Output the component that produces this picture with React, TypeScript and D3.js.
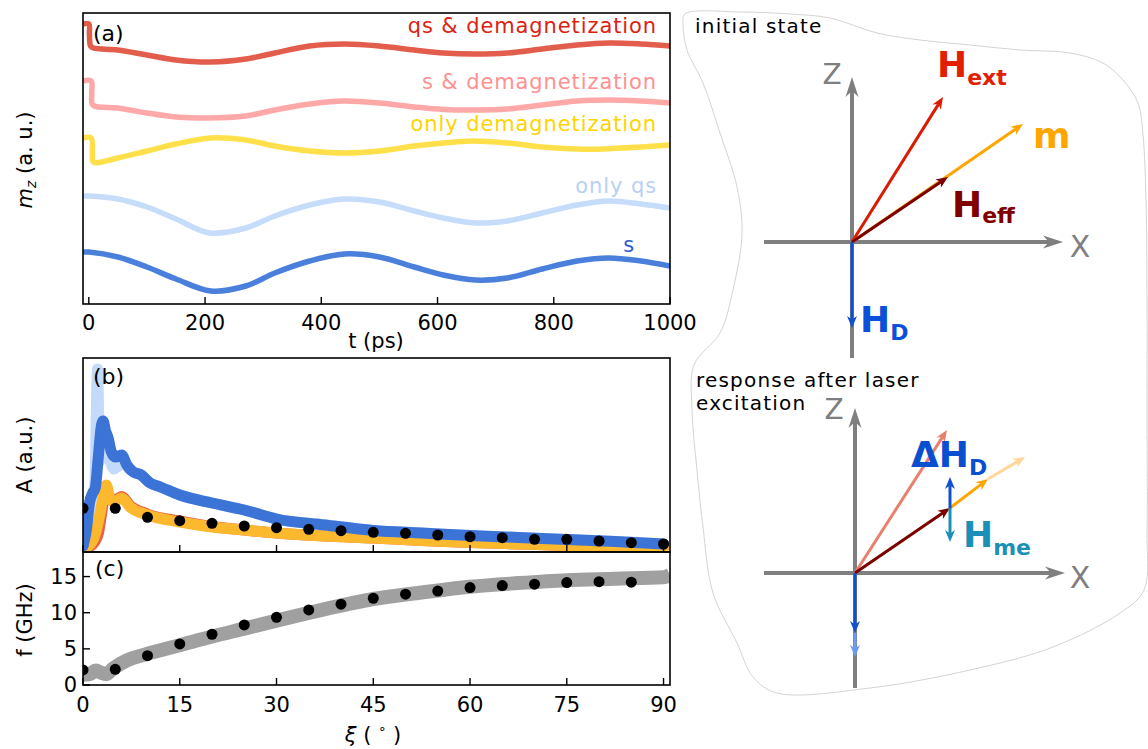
import React from 'react';
import * as d3 from 'd3';

const FONT = '"DejaVu Sans", Verdana, sans-serif';

// ---------- panel (a): m_z(t) traces, stacked with offsets (a.u.) ----------
const qsDemag: [number, number][] = [
  [-10, 28.0], [0, 28.0], [1, 27.0], [3, 25.8], [8, 25.6], [50, 25.4], [100, 24.9], [150, 24.4],
  [210, 24.2], [270, 24.5], [320, 25.1], [380, 25.8], [440, 26.0], [500, 25.8],
  [560, 25.4], [610, 25.1], [665, 25.0], [720, 25.1], [780, 25.5], [840, 25.9],
  [895, 26.1], [950, 26.0], [1000, 25.8],
];
const sDemag: [number, number][] = [
  [-10, 22.3], [4, 22.3], [5, 21.0], [7, 19.9], [50, 19.6], [100, 19.1], [150, 18.7],
  [205, 18.6], [270, 18.8], [320, 19.4], [380, 20.0], [440, 20.3], [500, 20.1],
  [560, 19.7], [610, 19.45], [665, 19.4], [720, 19.5], [780, 19.9], [840, 20.3],
  [895, 20.4], [950, 20.3], [1000, 20.1],
];
const onlyDemag: [number, number][] = [
  [-10, 16.6], [4, 16.6], [6, 15.0], [8, 14.2], [50, 14.6], [100, 15.3], [150, 16.0],
  [210, 16.6], [270, 16.4], [320, 15.8], [380, 15.3], [440, 15.1], [500, 15.3],
  [560, 15.8], [610, 16.1], [660, 16.3], [720, 16.1], [780, 15.7], [840, 15.5],
  [885, 15.5], [950, 15.7], [1000, 15.9],
];
const onlyQs: [number, number][] = [
  [-10, 10.8], [0, 10.8], [50, 10.5], [100, 9.7], [150, 8.5], [208, 7.1], [270, 7.6],
  [320, 8.8], [380, 9.9], [440, 10.5], [500, 10.2], [560, 9.3], [610, 8.6],
  [665, 8.1], [720, 8.3], [780, 9.1], [840, 9.9], [895, 10.3], [950, 10.0],
  [1000, 9.6],
];
const sOnly: [number, number][] = [
  [-10, 5.2], [0, 5.2], [50, 4.7], [100, 3.7], [150, 2.5], [210, 1.3], [270, 1.8],
  [320, 3.1], [380, 4.3], [440, 5.0], [500, 4.7], [560, 3.7], [610, 2.9],
  [665, 2.4], [720, 2.6], [780, 3.5], [840, 4.3], [895, 4.6], [950, 4.3],
  [1000, 3.8],
];
const namesA = ['qs & demagnetization', 's & demagnetization', 'only demagnetization', 'only qs', 's'];
const ticksT = [0, 200, 400, 600, 800, 1000];

// ---------- panel (b): amplitude vs xi ----------
const ampLightBlue: [number, number][] = [
  [0, 0.5], [0.6, 2.0], [1.2, 4.8], [1.8, 6.0], [2.25, 18.2], [2.6, 9.0], [3.1, 12.0],
  [3.6, 10.5], [4.2, 9.0], [4.8, 8.2], [5.5, 8.5], [6.2, 8.8], [7.0, 8.3], [7.8, 7.9],
  [9.0, 7.6], [10.4, 6.8], [12, 6.4], [15, 5.6], [20, 4.8], [25, 4.1], [30, 3.2],
  [37.5, 2.6], [45, 2.05], [52.5, 1.8], [60, 1.55], [67.5, 1.35], [75, 1.15], [82.5, 0.95], [90, 0.7],
];
const ampRed: [number, number][] = [
  [0, 0.2], [1.0, 0.4], [1.8, 0.9], [2.4, 1.8], [2.9, 3.8], [3.5, 6.0], [4.2, 5.4],
  [4.8, 5.0], [6.0, 5.45], [7.3, 4.55], [10, 3.7], [15, 3.0], [20, 2.45], [25, 2.1], [30, 1.8],
  [37.5, 1.5], [45, 1.3], [52.5, 1.05], [60, 0.85], [67.5, 0.7], [75, 0.55], [82.5, 0.45], [90, 0.35],
];
const ampOrange: [number, number][] = [
  [0, 0.3], [1.0, 0.6], [1.8, 1.5], [2.4, 3.0], [3.0, 5.0], [3.6, 6.6], [4.2, 5.2],
  [4.8, 4.9], [6.0, 5.3], [7.3, 4.4], [10, 3.6], [15, 2.9], [20, 2.4], [25, 2.1], [30, 1.8],
  [37.5, 1.5], [45, 1.3], [52.5, 1.05], [60, 0.85], [67.5, 0.7], [75, 0.55], [82.5, 0.45], [90, 0.35],
];
const ampBlue: [number, number][] = [
  [0, 0.5], [0.5, 2.0], [1.0, 4.8], [1.5, 5.8], [1.9, 6.3], [2.4, 9.6], [2.8, 12.3], [3.1, 13.0],
  [3.5, 12.0], [3.9, 11.3], [4.4, 9.9], [5.0, 9.4], [6.0, 9.6], [6.8, 8.6], [7.8, 7.9],
  [9.0, 7.6], [10.4, 6.8], [12, 6.4], [15, 5.6], [20, 4.8], [25, 4.1], [30, 3.2], [37.5, 2.6],
  [45, 2.05], [52.5, 1.8], [60, 1.55], [67.5, 1.35], [75, 1.15], [82.5, 0.95], [90, 0.7],
];
const xiDots = [0, 5, 10, 15, 20, 25, 30, 35, 40, 45, 50, 55, 60, 65, 70, 75, 80, 85, 90];
const ampDots = [4.27, 4.27, 3.37, 3.03, 2.77, 2.5, 2.33, 2.17, 2.03, 1.87, 1.77, 1.6, 1.43, 1.33, 1.17, 1.17, 1.0, 0.83, 0.7];

// ---------- panel (c): frequency vs xi ----------
const freqSim: [number, number][] = [
  [0, 1.4], [1, 1.5], [2, 2.0], [2.8, 1.7], [3.6, 1.5], [4.7, 2.3], [6.8, 3.4], [9.9, 4.3],
  [15, 5.5], [20, 6.7], [25, 7.8], [30, 8.9], [37.5, 10.5], [45, 11.9], [52.5, 12.8],
  [60, 13.6], [67.5, 14.1], [75, 14.5], [82.5, 14.7], [90, 14.9], [91, 15.2],
];
const xiFreqDots = [0, 5, 10, 15, 20, 25, 30, 35, 40, 45, 50, 55, 60, 65, 70, 75, 80, 85];
const freqDots = [2.08, 2.17, 4.06, 5.68, 7.02, 8.31, 9.37, 10.39, 11.18, 12.0, 12.56, 13.0, 13.48, 13.76, 13.95, 14.17, 14.3, 14.22];
const ticksXi = [0, 15, 30, 45, 60, 75, 90];
const ticksF = [0, 5, 10, 15];

// layout
const L = 83, R = 670;
const A_TOP = 13, A_BOT = 304, B_TOP = 358, B_BOT = 552, C_BOT = 685;
const TICK = 7;

const colorsA = ['#e35d4c', '#ffa8a8', '#ffe04a', '#c5dcfb', '#4a7fdc'];
const labelColorsA = ['#dd2211', '#ff9090', '#ffd400', '#b8d0f5', '#2a5bd0'];
const labelPosA = [[657, 33], [657, 89], [657, 131], [657, 193], [635, 252]];

function Arrow({ x1, y1, x2, y2, color, w = 3, head = 12, half = 5 }: any) {
  const a = Math.atan2(y2 - y1, x2 - x1);
  const ux = Math.cos(a), uy = Math.sin(a);
  const px = -uy, py = ux;
  const bx = x2 - head * ux, by = y2 - head * uy;
  const nx = x2 - head * 0.7 * ux, ny = y2 - head * 0.7 * uy;
  const pts = `${x2},${y2} ${bx + half * px},${by + half * py} ${nx},${ny} ${bx - half * px},${by - half * py}`;
  return (
    <g>
      <line x1={x1} y1={y1} x2={nx} y2={ny} stroke={color} strokeWidth={w} />
      <polygon points={pts} fill={color} />
    </g>
  );
}

function HLabel({ x, y, main, sub, color, dy = 8, size = 36, subSize = 22 }: any) {
  return (
    <text x={x} y={y} fill={color} fontFamily={FONT} fontWeight="bold">
      <tspan fontSize={size}>{main}</tspan>
      {sub ? <tspan fontSize={subSize} dy={dy}>{sub}</tspan> : null}
    </text>
  );
}

const blobPts: [number, number][] = [
  [685, 14], [740, 12], [790, 14], [830, 18], [877, 33], [920, 40], [970, 45], [1020, 50],
  [1070, 53], [1103, 63], [1123, 80], [1138, 103], [1143, 135], [1146, 200], [1147, 300],
  [1147, 420], [1147, 530], [1144, 590], [1120, 613], [1053, 647], [970, 670], [870, 688],
  [777, 693], [753, 677], [737, 643], [713, 593], [703, 527], [697, 470], [692, 410],
  [694, 365], [720, 333], [733, 290], [742, 233], [737, 187], [720, 133], [703, 83], [687, 50],
  [683, 25],
];

export default function App() {
  const xA = d3.scaleLinear().domain([-10, 1000]).range([L, R]);
  const yA = d3.scaleLinear().domain([0, 29.1]).range([A_BOT, A_TOP]);
  const lineA = d3.line<[number, number]>().x(d => xA(d[0])).y(d => yA(d[1])).curve(d3.curveCatmullRom.alpha(0.5));

  const xB = d3.scaleLinear().domain([0, 91]).range([L, R]);
  const yB = d3.scaleLinear().domain([-0.1, 19.3]).range([B_BOT, B_TOP]);
  const lineB = d3.line<[number, number]>().x(d => xB(d[0])).y(d => yB(d[1])).curve(d3.curveMonotoneX);

  const yC = d3.scaleLinear().domain([0, 18.4]).range([C_BOT, B_BOT]);
  const lineC = d3.line<[number, number]>().x(d => xB(d[0])).y(d => yC(d[1])).curve(d3.curveMonotoneX);

  const blob = d3.line().curve(d3.curveCatmullRomClosed)(blobPts) || '';

  const seriesA = [qsDemag, sDemag, onlyDemag, onlyQs, sOnly];
  const seriesB = [
    { d: ampLightBlue, c: '#c4dafa' },
    { d: ampRed, c: '#e8604c' },
    { d: ampOrange, c: '#fdb92e' },
    { d: ampBlue, c: '#3c73d6' },
  ];

  const gray = '#7f7f7f';
  const o1 = [852, 242];
  const o2 = [855, 573];

  return (
    <svg width={1148} height={749} style={{ position: 'absolute', left: 0, top: 0, background: '#fff' }} fontFamily={FONT}>
      <defs>
        <clipPath id="clipA"><rect x={L} y={A_TOP} width={R - L} height={A_BOT - A_TOP} /></clipPath>
        <clipPath id="clipB"><rect x={L} y={B_TOP} width={R - L} height={B_BOT - B_TOP} /></clipPath>
        <clipPath id="clipC"><rect x={L} y={B_BOT} width={R - L} height={C_BOT - B_BOT} /></clipPath>
      </defs>
      <rect width={1148} height={749} fill="#fff" />

      {/* ---------- panel (a) ---------- */}
      <g clipPath="url(#clipA)">
        {seriesA.map((s, i) => (
          <path key={i} d={lineA(s) || ''} fill="none" stroke={colorsA[i]} strokeWidth={5.5} strokeLinejoin="round" />
        ))}
      </g>
      {namesA.map((n, i) => (
        <text key={n} x={labelPosA[i][0]} y={labelPosA[i][1]} textAnchor="end" fontSize={21} letterSpacing={0.9} fill={labelColorsA[i]}>{n}</text>
      ))}
      <rect x={L} y={A_TOP} width={R - L} height={A_BOT - A_TOP} fill="none" stroke="#000" strokeWidth={1.6} />
      {ticksT.map(t => (
        <g key={t}>
          <line x1={xA(t)} x2={xA(t)} y1={A_BOT} y2={A_BOT - TICK} stroke="#000" strokeWidth={1.4} />
          <text x={xA(t)} y={A_BOT + 26} textAnchor="middle" fontSize={21}>{t}</text>
        </g>
      ))}
      <text x={376} y={348} textAnchor="middle" fontSize={21}>t (ps)</text>
      <text x={93} y={41} fontSize={22}>(a)</text>
      <text transform="translate(32,160) rotate(-90)" textAnchor="middle" fontSize={21}>
        <tspan fontStyle="italic">m</tspan>
        <tspan fontStyle="italic" fontSize={14} dy={4}>z</tspan>
        <tspan dy={-4}> (a. u.)</tspan>
      </text>

      {/* ---------- panel (b) ---------- */}
      <g clipPath="url(#clipB)">
        {seriesB.map((s, i) => (
          <path key={i} d={lineB(s.d) || ''} fill="none" stroke={s.c} strokeWidth={11} strokeLinejoin="round" strokeLinecap="round" />
        ))}
        {xiDots.map((x, i) => (
          <circle key={x} cx={xB(x)} cy={yB(ampDots[i])} r={5.5} fill="#000" />
        ))}
      </g>
      <rect x={L} y={B_TOP} width={R - L} height={B_BOT - B_TOP} fill="none" stroke="#000" strokeWidth={1.6} />
      {ticksXi.map(t => (
        <line key={t} x1={xB(t)} x2={xB(t)} y1={B_BOT} y2={B_BOT - TICK} stroke="#000" strokeWidth={1.4} />
      ))}
      <text x={93} y={384} fontSize={22}>(b)</text>
      <text transform="translate(32,455) rotate(-90)" textAnchor="middle" fontSize={21}>A (a.u.)</text>

      {/* ---------- panel (c) ---------- */}
      <g clipPath="url(#clipC)">
        <path d={lineC(freqSim) || ''} fill="none" stroke="#a0a0a0" strokeWidth={14} strokeLinejoin="round" />
        {xiFreqDots.map((x, i) => (
          <circle key={x} cx={xB(x)} cy={yC(freqDots[i])} r={5.5} fill="#000" />
        ))}
      </g>
      <rect x={L} y={B_BOT} width={R - L} height={C_BOT - B_BOT} fill="none" stroke="#000" strokeWidth={1.6} />
      {ticksXi.map(t => (
        <g key={t}>
          <line x1={xB(t)} x2={xB(t)} y1={C_BOT} y2={C_BOT - TICK} stroke="#000" strokeWidth={1.4} />
          <text x={xB(t)} y={C_BOT + 27} textAnchor="middle" fontSize={21}>{t}</text>
        </g>
      ))}
      {ticksF.map(t => (
        <g key={t}>
          <line x1={L} x2={L + TICK} y1={yC(t)} y2={yC(t)} stroke="#000" strokeWidth={1.4} />
          <text x={77} y={yC(t) + 7} textAnchor="end" fontSize={21}>{t}</text>
        </g>
      ))}
      <text x={95} y={576} fontSize={22}>(c)</text>
      <text transform="translate(32,620) rotate(-90)" textAnchor="middle" fontSize={21}>f (GHz)</text>
      <text x={373} y={742} textAnchor="middle" fontSize={21}>
        <tspan fontStyle="italic">ξ</tspan>
        <tspan> ( </tspan>
        <tspan fontSize={13} dy={-9}>∘</tspan>
        <tspan dy={9}> )</tspan>
      </text>

      {/* ---------- schematic ---------- */}
      <path d={blob} fill="none" stroke="#d4d4d4" strokeWidth={1} />
      <text x={695} y={33} fontSize={20} letterSpacing={1.2}>initial state</text>
      <text x={696} y={387} fontSize={20} letterSpacing={1.2}>response after laser</text>
      <text x={696} y={410} fontSize={20} letterSpacing={1.2}>excitation</text>

      {/* diagram 1 */}
      <line x1={o1[0]} y1={358} x2={o1[0]} y2={o1[1]} stroke={gray} strokeWidth={4} />
      <Arrow x1={o1[0]} y1={o1[1]} x2={o1[0]} y2={77} color={gray} w={4} head={20} half={6.5} />
      <Arrow x1={764} y1={o1[1]} x2={1063} y2={o1[1]} color={gray} w={4} head={20} half={6.5} />
      <text x={832} y={84} textAnchor="middle" fontSize={28} fill={gray}>Z</text>
      <text x={1080} y={257} textAnchor="middle" fontSize={30} fill={gray}>X</text>
      <Arrow x1={o1[0]} y1={o1[1]} x2={943} y2={97} color="#d81c00" />
      <Arrow x1={o1[0]} y1={o1[1]} x2={1023} y2={124} color="#ffa500" />
      <Arrow x1={o1[0]} y1={o1[1]} x2={948} y2={177} color="#7b0000" />
      <Arrow x1={o1[0]} y1={o1[1]} x2={o1[0]} y2={328} color="#1050d0" />
      <HLabel x={937} y={77} main="H" sub="ext" color="#e02000" />
      <HLabel x={952} y={217} main="H" sub="eff" color="#800000" dy={6} />
      <HLabel x={1033} y={148} main="m" color="#ffa500" />
      <HLabel x={860} y={332} main="H" sub="D" color="#0a50d8" />

      {/* diagram 2 */}
      <line x1={o2[0]} y1={688} x2={o2[0]} y2={o2[1]} stroke={gray} strokeWidth={4} />
      <Arrow x1={o2[0]} y1={o2[1]} x2={o2[0]} y2={408} color={gray} w={4} head={20} half={6.5} />
      <Arrow x1={764} y1={o2[1]} x2={1065} y2={o2[1]} color={gray} w={4} head={20} half={6.5} />
      <text x={834} y={419} textAnchor="middle" fontSize={28} fill={gray}>Z</text>
      <text x={1080} y={588} textAnchor="middle" fontSize={30} fill={gray}>X</text>
      <Arrow x1={o2[0]} y1={o2[1]} x2={947} y2={430} color="#e8806e" />
      <Arrow x1={988} y1={479} x2={1025} y2={457} color="#ffd79a" />
      <Arrow x1={950} y1={508} x2={988} y2={479} color="#ffa500" />
      <Arrow x1={o2[0]} y1={o2[1]} x2={950} y2={508} color="#7b0000" />
      <Arrow x1={950} y1={508} x2={950} y2={477} color="#1050d0" />
      <Arrow x1={950} y1={508} x2={950} y2={542} color="#1a8fb8" />
      <Arrow x1={o2[0]} y1={633} x2={o2[0]} y2={657} color="#6a9cf5" />
      <Arrow x1={o2[0]} y1={o2[1]} x2={o2[0]} y2={633} color="#1050d0" />
      <HLabel x={911} y={467} main="ΔH" sub="D" color="#0a4fd0" />
      <HLabel x={963} y={547} main="H" sub="me" color="#1a90b8" />
    </svg>
  );
}
